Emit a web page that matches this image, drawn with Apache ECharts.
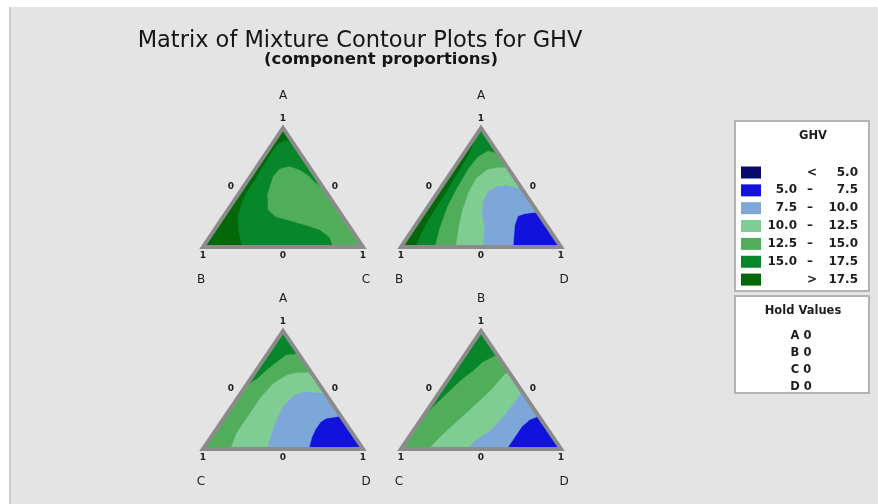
<!DOCTYPE html>
<html>
<head>
<meta charset="utf-8">
<script src="https://cdn.jsdelivr.net/npm/echarts@6/dist/echarts.min.js"></script>
<style>
  html, body { margin: 0; padding: 0; background: #ffffff; }
  #chart { width: 878px; height: 504px; }
</style>
</head>
<body>
<div id="chart"></div>
<script>
// ---- Text ----
const chartTitle = 'Matrix of Mixture Contour Plots for GHV';
const chartSubtitle = '(component proportions)';
const legendTitle = 'GHV';
const holdTitle = 'Hold Values';
const vertexTick = '1';
const edgeTick = '0';

// ---- GHV contour levels (band edges) ----
const ghvLevels = [5.0, 7.5, 10.0, 12.5, 15.0, 17.5];

// ---- Components held fixed in each panel ----
const holdComponents = ['A', 'B', 'C', 'D'];
const holdValues = [0, 0, 0, 0];

// ---- Panels: [top, left, right] component of each simplex ----
const plotABC = ['A', 'B', 'C'];
const plotABD = ['A', 'B', 'D'];
const plotACD = ['A', 'C', 'D'];
const plotBCD = ['B', 'C', 'D'];

// ---- Contour lines, as component proportions [top, left, right] ----
// closeAt: simplex vertices on the high-GHV side of the line
const abcContours = [
  { level: 15.0, closeAt: ['B', 'A'], path: [
    [0.50, 0.00, 0.50], [0.55, 0.03, 0.42], [0.60, 0.04, 0.36], [0.65, 0.07, 0.28],
    [0.68, 0.12, 0.20], [0.66, 0.19, 0.15], [0.59, 0.27, 0.14], [0.44, 0.38, 0.18],
    [0.31, 0.44, 0.25], [0.25, 0.42, 0.33], [0.21, 0.33, 0.46], [0.18, 0.27, 0.55],
    [0.14, 0.20, 0.66], [0.08, 0.17, 0.75], [0.00, 0.19, 0.81]
  ]},
  { level: 17.5, closeAt: ['A', 'B'], path: [
    [0.00, 0.76, 0.24], [0.14, 0.71, 0.15], [0.25, 0.66, 0.09], [0.35, 0.59, 0.06],
    [0.46, 0.50, 0.04], [0.57, 0.39, 0.04], [0.68, 0.285, 0.035], [0.78, 0.19, 0.03],
    [0.85, 0.12, 0.03], [0.89, 0.06, 0.05], [0.90, 0.02, 0.08], [0.88, 0.00, 0.12]
  ]}
];

const abdContours = [
  { level: 7.5, closeAt: ['A', 'B'], path: [
    [0.00, 0.30, 0.70], [0.18, 0.20, 0.62], [0.26, 0.14, 0.60], [0.28, 0.09, 0.63],
    [0.29, 0.03, 0.68], [0.29, 0.00, 0.71]
  ]},
  { level: 10.0, closeAt: ['A', 'B'], path: [
    [0.00, 0.49, 0.51], [0.16, 0.40, 0.44], [0.27, 0.36, 0.37], [0.38, 0.30, 0.32],
    [0.47, 0.22, 0.31], [0.51, 0.15, 0.34], [0.52, 0.09, 0.39], [0.49, 0.00, 0.51]
  ]},
  { level: 12.5, closeAt: ['A', 'B'], path: [
    [0.00, 0.66, 0.34], [0.18, 0.55, 0.27], [0.30, 0.47, 0.23], [0.46, 0.35, 0.19],
    [0.58, 0.24, 0.18], [0.65, 0.14, 0.21], [0.67, 0.07, 0.26], [0.67, 0.00, 0.33]
  ]},
  { level: 15.0, closeAt: ['A', 'B'], path: [
    [0.00, 0.79, 0.21], [0.16, 0.68, 0.16], [0.33, 0.55, 0.12], [0.49, 0.41, 0.10],
    [0.66, 0.25, 0.09], [0.76, 0.14, 0.10], [0.81, 0.05, 0.14], [0.79, 0.00, 0.21]
  ]},
  { level: 17.5, closeAt: ['B'], path: [
    [0.00, 0.91, 0.09], [0.10, 0.83, 0.07], [0.24, 0.705, 0.055], [0.44, 0.51, 0.05],
    [0.65, 0.31, 0.04], [0.80, 0.17, 0.03], [0.93, 0.07, 0.00]
  ]}
];

const acdContours = [
  { level: 5.0, closeAt: ['A', 'C'], path: [
    [0.00, 0.035, 0.965], [0.02, 0.02, 0.96], [0.035, 0.00, 0.965]
  ]},
  { level: 7.5, closeAt: ['A', 'C'], path: [
    [0.00, 0.34, 0.66], [0.10, 0.27, 0.63], [0.16, 0.22, 0.62], [0.23, 0.15, 0.62],
    [0.26, 0.10, 0.64], [0.27, 0.05, 0.68], [0.28, 0.00, 0.72]
  ]},
  { level: 10.0, closeAt: ['A', 'C'], path: [
    [0.00, 0.60, 0.40], [0.13, 0.51, 0.36], [0.27, 0.40, 0.33], [0.37, 0.31, 0.32],
    [0.46, 0.20, 0.34], [0.49, 0.11, 0.40], [0.47, 0.00, 0.53]
  ]},
  { level: 12.5, closeAt: ['A', 'C'], path: [
    [0.00, 0.83, 0.17], [0.13, 0.73, 0.14], [0.27, 0.59, 0.14], [0.44, 0.42, 0.14],
    [0.56, 0.28, 0.16], [0.63, 0.16, 0.21], [0.65, 0.09, 0.26], [0.65, 0.00, 0.35]
  ]},
  { level: 15.0, closeAt: ['A'], path: [
    [0.81, 0.00, 0.19], [0.80, 0.08, 0.12], [0.74, 0.17, 0.09], [0.67, 0.27, 0.06],
    [0.60, 0.36, 0.04], [0.54, 0.46, 0.00]
  ]}
];

const bcdContours = [
  { level: 5.0, closeAt: ['B', 'C'], path: [
    [0.00, 0.035, 0.965], [0.02, 0.02, 0.96], [0.035, 0.00, 0.965]
  ]},
  { level: 7.5, closeAt: ['B', 'C'], path: [
    [0.00, 0.34, 0.66], [0.10, 0.24, 0.66], [0.19, 0.15, 0.66], [0.25, 0.07, 0.68],
    [0.28, 0.00, 0.72]
  ]},
  { level: 10.0, closeAt: ['B', 'C'], path: [
    [0.00, 0.59, 0.41], [0.08, 0.49, 0.43], [0.16, 0.36, 0.48], [0.27, 0.23, 0.50],
    [0.39, 0.10, 0.51], [0.49, 0.00, 0.51]
  ]},
  { level: 12.5, closeAt: ['B', 'C'], path: [
    [0.00, 0.83, 0.17], [0.10, 0.71, 0.19], [0.23, 0.54, 0.23], [0.36, 0.37, 0.27],
    [0.50, 0.19, 0.31], [0.64, 0.03, 0.33], [0.65, 0.00, 0.35]
  ]},
  { level: 15.0, closeAt: ['B'], path: [
    [0.80, 0.00, 0.20], [0.74, 0.12, 0.14], [0.67, 0.21, 0.12], [0.58, 0.34, 0.08],
    [0.47, 0.48, 0.05], [0.36, 0.62, 0.02], [0.27, 0.73, 0.00]
  ]}
];

// ---- Styling ----
const bandColors = ['#0b0b6e', '#1212de', '#7ea7d9', '#80cd93', '#50ae5b', '#08872a', '#026808'];
const FONT = '"DejaVu Sans", Verdana, sans-serif';
const textColor = '#1c1c1c';
const frameColor = '#8b8b8b';

const panels = [
  { comps: plotABC, contours: abcContours, box: { left: 203, top: 128, width: 160, height: 119 } },
  { comps: plotABD, contours: abdContours, box: { left: 401, top: 128, width: 160, height: 119 } },
  { comps: plotACD, contours: acdContours, box: { left: 203, top: 331, width: 160, height: 118 } },
  { comps: plotBCD, contours: bcdContours, box: { left: 401, top: 331, width: 160, height: 118 } }
];

// [top, left, right] proportions -> plane coordinates of the simplex
function toPlane(p) { return [p[2] + p[0] / 2, p[0]]; }

function vertexOf(comps, name) {
  const v = [0, 0, 0];
  v[comps.indexOf(name)] = 1;
  return v;
}

// Superlevel regions, painted from the lowest band upwards
function buildRegions(panel) {
  const sorted = panel.contours.slice().sort((a, b) => a.level - b.level);
  const regions = [{
    band: ghvLevels.indexOf(sorted[0].level),
    poly: [[1, 0, 0], [0, 1, 0], [0, 0, 1]]
  }];
  sorted.forEach(c => {
    regions.push({
      band: ghvLevels.indexOf(c.level) + 1,
      poly: c.path.concat(c.closeAt.map(n => vertexOf(panel.comps, n)))
    });
  });
  return regions;
}

const grids = [], xAxes = [], yAxes = [], series = [];

panels.forEach((panel, i) => {
  grids.push(Object.assign({ containLabel: false }, panel.box));
  xAxes.push({ type: 'value', gridIndex: i, min: 0, max: 1, show: false });
  yAxes.push({ type: 'value', gridIndex: i, min: 0, max: 1, show: false });

  const regions = buildRegions(panel);

  series.push({
    type: 'custom',
    coordinateSystem: 'cartesian2d',
    xAxisIndex: i, yAxisIndex: i,
    silent: true, z: 2,
    data: regions.map(r => toPlane(r.poly[0])),
    renderItem: function (params, api) {
      const reg = regions[params.dataIndex];
      return {
        type: 'polygon',
        shape: { points: reg.poly.map(p => api.coord(toPlane(p))) },
        style: { fill: bandColors[reg.band], stroke: bandColors[reg.band], lineWidth: 0.6 }
      };
    }
  });

  // Simplex frame, tick values and component names
  series.push({
    type: 'custom',
    coordinateSystem: 'cartesian2d',
    xAxisIndex: i, yAxisIndex: i,
    silent: true, z: 3,
    data: [toPlane([1, 0, 0])],
    renderItem: function (params, api) {
      const top = api.coord(toPlane([1, 0, 0]));
      const left = api.coord(toPlane([0, 1, 0]));
      const right = api.coord(toPlane([0, 0, 1]));
      const midL = [(top[0] + left[0]) / 2, (top[1] + left[1]) / 2];
      const midR = [(top[0] + right[0]) / 2, (top[1] + right[1]) / 2];
      const midB = [(left[0] + right[0]) / 2, left[1]];
      const txt = (s, x, y, size, weight) => ({
        type: 'text', x: x, y: y,
        style: {
          text: s, textAlign: 'center', textVerticalAlign: 'middle',
          fontFamily: FONT, fontSize: size, fontWeight: weight || 'normal', fill: textColor
        }
      });
      return {
        type: 'group',
        children: [
          {
            type: 'polygon',
            shape: { points: [top, left, right] },
            style: { fill: null, stroke: frameColor, lineWidth: 4, lineJoin: 'miter' }
          },
          txt(panel.comps[0], top[0], top[1] - 32, 12),
          txt(panel.comps[1], left[0] - 2, left[1] + 33, 12),
          txt(panel.comps[2], right[0] + 3, right[1] + 33, 12),
          txt(vertexTick, top[0], top[1] - 9, 9, 'bold'),
          txt(vertexTick, left[0], left[1] + 9, 9, 'bold'),
          txt(vertexTick, right[0], right[1] + 9, 9, 'bold'),
          txt(edgeTick, midL[0] - 12, midL[1] - 1, 9, 'bold'),
          txt(edgeTick, midR[0] + 12, midR[1] - 1, 9, 'bold'),
          txt(edgeTick, midB[0], midB[1] + 9, 9, 'bold')
        ]
      };
    }
  });
});

// ---- Legend and annotation graphics ----
const fmt = v => v.toFixed(1);
const graphics = [
  { type: 'rect', shape: { x: 9, y: 7, width: 869, height: 497 }, style: { fill: '#e4e4e4' }, z: -10 },
  { type: 'line', shape: { x1: 10, y1: 7, x2: 10, y2: 504 }, style: { stroke: '#cdcdcd', lineWidth: 2 }, z: -9 },
  {
    type: 'text', x: 360, y: 41,
    style: { text: chartTitle, textAlign: 'center', textVerticalAlign: 'middle',
      fontFamily: FONT, fontSize: 22.5, fill: '#151515' }
  },
  {
    type: 'text', x: 381, y: 60,
    style: { text: chartSubtitle, textAlign: 'center', textVerticalAlign: 'middle',
      fontFamily: FONT, fontSize: 16.5, fontWeight: 'bold', fill: '#151515' }
  },
  { type: 'rect', shape: { x: 735, y: 121, width: 134, height: 170 },
    style: { fill: '#ffffff', stroke: '#b3b3b3', lineWidth: 2 } },
  { type: 'rect', shape: { x: 735, y: 296, width: 134, height: 97 },
    style: { fill: '#ffffff', stroke: '#b3b3b3', lineWidth: 2 } },
  {
    type: 'text', x: 813, y: 136,
    style: { text: legendTitle, textAlign: 'center', textVerticalAlign: 'middle',
      fontFamily: FONT, fontSize: 11.5, fontWeight: 'bold', fill: textColor }
  },
  {
    type: 'text', x: 803, y: 311,
    style: { text: holdTitle, textAlign: 'center', textVerticalAlign: 'middle',
      fontFamily: FONT, fontSize: 11.5, fontWeight: 'bold', fill: textColor }
  }
];

const legendText = (s, x, y, align) => ({
  type: 'text', x: x, y: y,
  style: { text: s, textAlign: align, textVerticalAlign: 'middle',
    fontFamily: FONT, fontSize: 12, fontWeight: 'bold', fill: textColor }
});

for (let b = 0; b <= ghvLevels.length; b++) {
  const cy = 172.5 + b * 17.85;
  graphics.push({ type: 'rect', shape: { x: 741, y: cy - 6, width: 20, height: 12 },
    style: { fill: bandColors[b] } });
  if (b === 0) {
    graphics.push(legendText('<', 812, cy, 'center'));
    graphics.push(legendText(fmt(ghvLevels[0]), 858, cy, 'right'));
  } else if (b === ghvLevels.length) {
    graphics.push(legendText('>', 812, cy, 'center'));
    graphics.push(legendText(fmt(ghvLevels[b - 1]), 858, cy, 'right'));
  } else {
    graphics.push(legendText(fmt(ghvLevels[b - 1]), 797, cy, 'right'));
    graphics.push(legendText('–', 810, cy, 'center'));
    graphics.push(legendText(fmt(ghvLevels[b]), 858, cy, 'right'));
  }
}

holdComponents.forEach((c, k) => {
  graphics.push({
    type: 'text', x: 801, y: 336 + k * 17,
    style: { text: c + ' ' + holdValues[k], textAlign: 'center', textVerticalAlign: 'middle',
      fontFamily: FONT, fontSize: 11.5, fontWeight: 'bold', fill: textColor }
  });
});

const chart = echarts.init(document.getElementById('chart'));
chart.setOption({
  animation: false,
  backgroundColor: '#ffffff',
  grid: grids,
  xAxis: xAxes,
  yAxis: yAxes,
  series: series,
  graphic: { elements: graphics }
});
</script>
</body>
</html>
